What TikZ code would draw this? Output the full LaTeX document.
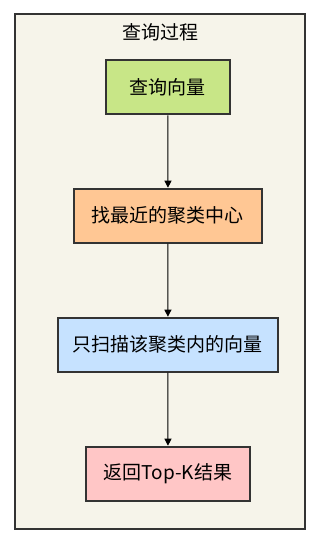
\documentclass[tikz,border=0pt]{standalone}
\usepackage{fontspec}
\setmainfont{Noto Sans CJK SC}
\usetikzlibrary{arrows.meta}
\definecolor{bgc}{HTML}{F6F4EA}
\definecolor{edgec}{HTML}{333333}
\definecolor{gfill}{HTML}{C8E687}
\definecolor{ofill}{HTML}{FFC794}
\definecolor{bfill}{HTML}{C6E2FF}
\definecolor{rfill}{HTML}{FFC6C6}
\begin{document}
\begin{tikzpicture}[x=1pt,y=-1pt,
  stepbox/.style={draw=edgec,line width=2pt,minimum height=54pt,inner sep=0pt,font=\fontsize{19}{22}\selectfont,text=black},
  conn/.style={draw=black,line width=1pt,-{Triangle[length=7pt,width=7pt]}}]
\useasboundingbox (0,0) rectangle (318,542);
\node[draw=edgec,fill=bgc,line width=2pt,minimum width=290.5pt,minimum height=515.5pt,inner sep=0pt] (frame) at (160,271.7) {};
\node[font=\fontsize{19}{22}\selectfont] (title) at (160,32) {查询过程};
\node[stepbox,fill=gfill,minimum width=124.3pt] (q) at (167.9,87.3) {查询向量};
\node[stepbox,fill=ofill,minimum width=188.6pt] (c) at (168,215.7) {找最近的聚类中心};
\node[stepbox,fill=bfill,minimum width=220.3pt] (s) at (167.9,344.7) {只扫描该聚类内的向量};
\node[stepbox,fill=rfill,minimum width=164pt] (r) at (168,473.7) {返回Top-K结果};
\draw[conn] (q) -- (c);
\draw[conn] (c) -- (s);
\draw[conn] (s) -- (r);
\end{tikzpicture}
\end{document}
